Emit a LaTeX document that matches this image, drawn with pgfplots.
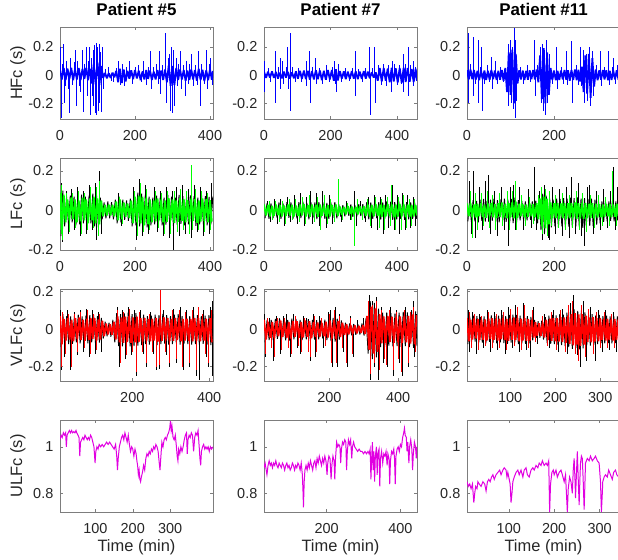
\documentclass[border=0pt]{standalone}
\usepackage{fontspec}
\setmainfont{Liberation Sans}
\usepackage{pgfplots}
\pgfplotsset{compat=1.18}

\definecolor{mblue}{RGB}{0,0,255}
\definecolor{mgreen}{RGB}{0,255,0}
\definecolor{mred}{RGB}{255,0,0}
\definecolor{mmag}{RGB}{225,0,225}
\definecolor{frame}{RGB}{125,125,125}
\definecolor{txt}{RGB}{38,38,38}

\pgfplotsset{
  panel/.style={
    width=153bp, height=92bp, scale only axis, anchor=north west,
    axis line style={frame, line width=0.6bp},
    tick style={frame, line width=0.5bp},
    major tick length=3bp, tick align=inside,
    tick label style={font=\fontsize{14.5}{16}\selectfont, text=txt},
    xticklabel style={anchor=center, inner sep=0pt, yshift=-17bp},
    yticklabel style={anchor=east, inner sep=0pt, xshift=-6.5bp},
    ylabel style={at={(axis description cs:-0.275,0.5)}, anchor=center,
      font=\fontsize{16.5}{18}\selectfont, text=txt},
    xlabel style={at={(axis description cs:0.5,0)}, anchor=center, yshift=-35bp,
      font=\fontsize{16.5}{18}\selectfont, text=txt},
    title style={at={(axis description cs:0.5,1)}, anchor=center, yshift=11.5bp,
      font=\bfseries\fontsize{17}{19}\selectfont, text=black},
  },
  % third column runs past the right edge of the picture
  cut/.style={width=158bp},
  hf/.style={ymin=-0.31, ymax=0.34, ytick={-0.2,0,0.2}, yticklabels={-0.2,0,0.2}},
  lf/.style={ymin=-0.2, ymax=0.265, ytick={-0.2,0,0.2}, yticklabels={-0.2,0,0.2}},
  vlf/.style={ymin=-0.276, ymax=0.214, ytick={-0.2,0,0.2}, yticklabels={-0.2,0,0.2}},
  ulf/.style={ymin=0.72, ymax=1.115, ytick={0.8,1}, yticklabels={0.8,1}},
  sig/.style={#1, line width=1.8bp, line join=bevel},
  sigb/.style={black, line width=0.9bp, line join=bevel},
  spk/.style={#1, ycomb, line width=0.6bp},
}

\begin{document}
\begin{tikzpicture}

% ---------------- row 1: HFc ----------------
\begin{axis}[panel, hf, at={(60bp,-27bp)}, xmin=0, xmax=408,
  xtick={0,200,400}, xticklabels={0,200,400}, title={Patient \#5}, ylabel={HFc (s)}]
\addplot[sig=mblue] coordinates {(0,.04)(5,-.03)(10,.05)(15,-.034)(20,.046)(25,-.028)(30,.052)(35,-.036)(40,.04)(45,-.03)(50,.05)(55,-.034)(60,.044)(65,-.028)(70,.052)(75,-.036)(80,.045)(85,-.06)(90,.08)(95,-.065)(100,.09)(105,-.07)(110,.065)(115,-.02)(120,.016)(125,-.022)(130,.014)(135,-.02)(140,.018)(145,-.015)(150,.03)(155,-.05)(160,.045)(165,-.055)(170,.04)(175,-.045)(180,.03)(185,-.025)(190,.034)(195,-.028)(200,.036)(205,-.024)(210,.032)(215,-.035)(220,.026)(225,-.03)(230,.036)(235,-.026)(240,.032)(245,-.034)(250,.025)(255,-.03)(260,.036)(265,-.026)(270,.032)(275,-.034)(280,.04)(285,-.05)(290,.07)(295,-.075)(300,.065)(305,-.07)(310,.05)(315,-.035)(320,.04)(325,-.03)(330,.036)(335,-.04)(340,.032)(345,-.035)(350,.04)(355,-.03)(360,.036)(365,-.04)(370,.045)(375,-.035)(380,.038)(385,-.042)(390,.034)(395,-.036)(400,.04)(405,-.032)(408,.03)};
\addplot[spk=mblue] coordinates {(2,.2)(4,-.3)(7,.08)(9,.22)(11,-.2)(14,-.08)(18,.1)(22,-.1)(26,-.27)(28,.12)(33,-.07)(38,.09)(41,.18)(44,-.22)(47,.1)(51,-.08)(55,-.12)(59,.18)(62,-.26)(66,.08)(69,.2)(72,-.15)(76,.1)(78,.2)(80,-.28)(83,.12)(86,-.15)(88,.18)(90,-.22)(92,.21)(94,-.27)(96,.23)(98,-.28)(100,.2)(102,-.25)(104,.22)(106,-.2)(108,.16)(110,-.26)(112,.2)(115,-.1)(122,.04)(130,.06)(136,-.04)(142,-.05)(150,.05)(155,.1)(160,-.07)(166,.08)(172,-.08)(177,.06)(186,.1)(192,-.06)(200,.06)(210,.07)(216,-.05)(222,.1)(230,-.07)(235,.06)(240,.17)(243,-.1)(250,.06)(256,.08)(262,-.06)(266,.17)(268,-.13)(274,.07)(280,.3)(283,-.2)(288,.12)(291,.15)(294,-.25)(297,.2)(300,-.27)(303,.18)(306,-.22)(309,.12)(312,-.08)(316,.08)(320,.17)(324,-.1)(330,.07)(333,-.15)(336,.1)(342,-.06)(346,.08)(350,.15)(355,-.08)(360,.07)(366,-.07)(370,.17)(373,-.22)(378,.08)(384,-.06)(390,.18)(393,-.1)(398,.08)(402,.12)(406,-.07)};
\end{axis}

\begin{axis}[panel, hf, at={(264bp,-27bp)}, xmin=0, xmax=460,
  xtick={0,200,400}, xticklabels={0,200,400}, title={Patient \#7}]
\addplot[sig=mblue] coordinates {(0,.025)(6,-.02)(12,.024)(18,-.018)(24,.026)(30,-.02)(36,.022)(42,-.024)(48,.018)(54,-.022)(60,.025)(66,-.018)(72,.022)(78,-.024)(84,.02)(90,-.022)(96,.026)(102,-.025)(108,.03)(114,-.026)(120,.032)(126,-.028)(132,.03)(138,-.033)(144,.028)(150,-.03)(156,.034)(162,-.028)(168,.032)(174,-.035)(180,.03)(186,-.032)(192,.036)(198,-.03)(204,.035)(210,-.04)(216,.042)(222,-.038)(228,.028)(234,-.025)(240,.026)(246,-.028)(252,.024)(258,-.026)(264,.028)(270,-.024)(276,.026)(282,-.028)(288,.024)(294,-.026)(300,.028)(306,-.024)(312,.025)(318,-.022)(324,.02)(330,-.018)(336,.02)(342,-.04)(348,.05)(354,-.045)(360,.05)(366,-.04)(372,.046)(378,-.05)(384,.052)(390,-.045)(396,.048)(402,-.052)(408,.05)(414,-.055)(420,.052)(426,-.048)(432,.05)(438,-.046)(444,.044)(450,-.048)(456,.045)(460,-.04)};
\addplot[spk=mblue] coordinates {(1,.1)(2,-.12)(12,.05)(20,-.05)(33,.17)(35,-.2)(42,.06)(48,.12)(50,-.1)(54,.1)(58,-.06)(66,.06)(70,.2)(72,-.1)(78,.3)(80,-.25)(86,.06)(94,-.05)(104,.05)(112,-.05)(126,.1)(128,-.08)(136,.17)(139,-.2)(146,.06)(153,.12)(156,-.06)(166,.05)(176,-.06)(186,.07)(196,-.05)(204,.06)(210,.1)(214,-.06)(218,-.12)(222,.08)(232,-.05)(244,.05)(256,-.04)(266,.05)(273,.17)(275,-.15)(284,.04)(296,-.05)(306,.05)(318,.2)(320,-.28)(326,.05)(333,.2)(335,-.2)(345,.07)(352,-.07)(360,.08)(368,-.08)(375,.07)(383,-.12)(385,.1)(392,.08)(400,-.07)(408,.07)(412,-.06)(418,.15)(420,-.12)(426,.08)(433,.2)(435,-.15)(440,.07)(448,.1)(450,-.08)(456,.06)};
\end{axis}

\begin{axis}[panel, cut, hf, at={(467bp,-27bp)}, xmin=0, xmax=363,
  xtick={0,200}, xticklabels={0,200}, title={Patient \#11},
  title style={xshift=-2.5bp}]
\addplot[sig=mblue] coordinates {(0,.035)(4,-.03)(8,.04)(12,-.028)(16,.036)(20,-.032)(24,.03)(28,-.036)(32,.034)(36,-.028)(40,.032)(44,-.035)(48,.03)(52,-.032)(56,.036)(60,-.028)(64,.032)(68,-.034)(72,.03)(76,-.032)(80,.036)(84,-.04)(88,.05)(92,-.12)(96,.16)(100,-.14)(104,.18)(108,-.2)(112,.15)(116,-.06)(120,.035)(124,-.03)(128,.032)(132,-.034)(136,.03)(140,-.032)(144,.034)(148,-.028)(152,.036)(156,-.03)(160,.04)(164,-.05)(168,.14)(172,-.17)(176,.19)(180,-.2)(184,.16)(188,-.14)(192,.05)(196,-.035)(200,.032)(204,-.036)(208,.03)(212,-.034)(216,.032)(220,-.03)(224,.036)(228,-.032)(232,.034)(236,-.04)(240,.036)(244,-.035)(248,.04)(252,-.036)(256,.038)(260,-.045)(264,.06)(268,-.12)(272,.14)(276,-.13)(280,.15)(284,-.16)(288,.12)(292,-.08)(296,.04)(300,-.036)(304,.034)(308,-.032)(312,.036)(316,-.03)(320,.034)(324,-.036)(328,.03)(332,-.034)(336,.032)(340,-.03)(344,.034)(348,-.032)(352,.03)(356,-.034)(360,.032)};
\addplot[spk=mblue] coordinates {(2,.3)(3,-.2)(8,.08)(14,.27)(15,-.15)(20,-.06)(25,.25)(26,-.2)(30,.06)(33,.2)(34,-.25)(40,-.06)(46,.07)(52,-.05)(56,.13)(58,-.1)(64,.1)(70,-.06)(76,.06)(84,-.05)(94,.22)(96,-.22)(99,.25)(101,-.2)(104,.2)(106,-.24)(108,.33)(110,-.3)(112,.25)(114,-.18)(122,.06)(130,-.06)(138,.07)(146,-.05)(154,.25)(156,-.15)(162,.07)(168,.2)(170,-.2)(173,.22)(175,-.25)(178,.18)(180,-.28)(183,.25)(185,-.2)(188,.15)(196,-.06)(206,.2)(208,-.1)(216,.06)(222,-.06)(229,.17)(231,-.07)(240,.24)(242,-.2)(250,.07)(255,-.07)(260,.2)(262,-.08)(268,.18)(270,-.2)(274,.15)(277,-.18)(280,.2)(283,-.22)(287,.17)(290,-.15)(298,.07)(306,.17)(308,-.08)(316,.06)(325,.17)(327,-.07)(333,.06)(337,.12)(340,-.06)(346,.07)};
\end{axis}

% ---------------- row 2: LFc ----------------
\begin{axis}[panel, lf, at={(60bp,-158bp)}, xmin=0, xmax=408,
  xtick={0,200,400}, xticklabels={0,200,400}, ylabel={LFc (s)}]
\addplot[sigb] coordinates {(2.5,-.13)(7.5,.1)(12.5,-.08)(17.5,.07)(22.5,-.065)(27.5,.075)(32.5,-.06)(37.5,.07)(42.5,-.075)(47.5,.065)(52.5,-.07)(57.5,.08)(62.5,-.065)(67.5,.07)(72.5,-.08)(77.5,.075)(82.5,-.065)(87.5,.085)(92.5,-.08)(97.5,.075)(102.5,-.085)(107.5,.065)(112.5,-.045)(117.5,.04)(122.5,-.04)(127.5,.045)(132.5,-.04)(137.5,.042)(142.5,-.045)(147.5,.055)(152.5,-.065)(157.5,.07)(162.5,-.06)(167.5,.055)(172.5,-.048)(177.5,.05)(182.5,-.052)(187.5,.06)(192.5,-.08)(197.5,.085)(202.5,-.075)(207.5,.09)(212.5,-.08)(217.5,.085)(222.5,-.09)(227.5,.08)(232.5,-.085)(237.5,.07)(242.5,-.075)(247.5,.065)(252.5,-.07)(257.5,.075)(262.5,-.065)(267.5,.07)(272.5,-.075)(277.5,.065)(282.5,-.072)(287.5,.078)(292.5,-.065)(297.5,.07)(302.5,-.078)(307.5,.065)(312.5,-.072)(317.5,.078)(322.5,-.068)(327.5,.072)(332.5,-.075)(337.5,.068)(342.5,-.07)(347.5,.076)(352.5,-.068)(357.5,.072)(362.5,-.078)(367.5,.065)(372.5,-.07)(377.5,.076)(382.5,-.07)(387.5,.072)(392.5,-.075)(397.5,.068)(402.5,-.07)(407.5,.07)};
\addplot[spk=black] coordinates {(3,.14)(5,-.16)(16,.1)(22,-.12)(30,.11)(38,-.1)(46,.12)(54,-.13)(62,.1)(70,-.12)(78,.13)(86,-.1)(94,.14)(98,-.15)(106,.2)(110,-.12)(156,.09)(164,-.08)(196,.12)(204,-.15)(212,.16)(220,-.13)(228,.13)(236,-.12)(252,.12)(260,-.11)(268,.1)(276,-.13)(284,.12)(292,-.14)(300,.1)(302,-.2)(310,.12)(318,-.13)(326,.13)(334,-.12)(342,.11)(350,-.14)(358,.13)(366,-.11)(374,.12)(382,-.13)(390,.1)(398,-.12)(404,.14)};
\addplot[sig=mgreen] coordinates {(0,.09)(5,-.12)(10,.08)(15,-.06)(20,.055)(25,-.05)(30,.065)(35,-.045)(40,.055)(45,-.06)(50,.05)(55,-.055)(60,.065)(65,-.05)(70,.055)(75,-.065)(80,.06)(85,-.05)(90,.07)(95,-.065)(100,.06)(105,-.07)(110,.05)(115,-.03)(120,.028)(125,-.025)(130,.03)(135,-.026)(140,.028)(145,-.03)(150,.045)(155,-.05)(160,.055)(165,-.045)(170,.04)(175,-.032)(180,.035)(185,-.038)(190,.05)(195,-.065)(200,.07)(205,-.06)(210,.075)(215,-.065)(220,.07)(225,-.075)(230,.065)(235,-.07)(240,.055)(245,-.06)(250,.05)(255,-.055)(260,.06)(265,-.05)(270,.055)(275,-.06)(280,.05)(285,-.058)(290,.062)(295,-.05)(300,.056)(305,-.062)(310,.05)(315,-.058)(320,.062)(325,-.052)(330,.058)(335,-.06)(340,.052)(345,-.056)(350,.06)(355,-.052)(360,.058)(365,-.062)(370,.05)(375,-.056)(380,.06)(385,-.054)(390,.058)(395,-.06)(400,.052)(405,-.056)};
\addplot[spk=mgreen] coordinates {(4,.13)(6,-.15)(18,.09)(26,-.11)(34,.09)(42,-.09)(50,.1)(58,-.12)(66,.09)(74,-.1)(82,.12)(90,-.09)(96,.12)(102,-.13)(104,.15)(158,.07)(166,-.07)(198,.1)(206,-.13)(214,.14)(222,-.11)(230,.11)(238,-.1)(254,.1)(262,-.09)(270,.09)(278,-.12)(286,.1)(294,-.12)(306,.1)(314,-.11)(322,.11)(330,-.1)(338,.1)(346,-.12)(350,.23)(354,-.1)(362,.11)(370,-.1)(378,.1)(386,-.11)(394,.09)(402,-.1)};
\end{axis}

\begin{axis}[panel, lf, at={(264bp,-158bp)}, xmin=0, xmax=460,
  xtick={0,200,400}, xticklabels={0,200,400}]
\addplot[sigb] coordinates {(3,-.04)(9,.036)(15,-.042)(21,.035)(27,-.04)(33,.038)(39,-.036)(45,.04)(51,-.042)(57,.036)(63,-.04)(69,.042)(75,-.037)(81,.04)(87,-.043)(93,.036)(99,-.04)(105,.042)(111,-.038)(117,.044)(123,-.042)(129,.038)(135,-.045)(141,.042)(147,-.038)(153,.04)(159,-.044)(165,.042)(171,-.038)(177,.041)(183,-.043)(189,.038)(195,-.042)(201,.04)(207,-.037)(213,.042)(219,-.04)(225,.03)(231,-.032)(237,.027)(243,-.03)(249,.032)(255,-.027)(261,.03)(267,-.032)(273,.027)(279,-.03)(285,.031)(291,-.028)(297,.032)(303,-.04)(309,.042)(315,-.045)(321,.04)(327,-.043)(333,.045)(339,-.04)(345,.042)(351,-.046)(357,.04)(363,-.043)(369,.046)(375,-.041)(381,.044)(387,-.047)(393,.042)(399,-.045)(405,.047)(411,-.042)(417,.045)(423,-.047)(429,.042)(435,-.045)(441,.04)(447,-.043)(453,.04)(459,-.042)};
\addplot[spk=black] coordinates {(10,.05)(20,-.06)(30,.06)(40,-.07)(48,.06)(60,-.08)(70,.07)(80,-.06)(90,.08)(100,-.07)(110,.09)(120,-.08)(128,.07)(138,.1)(146,-.07)(156,.09)(166,-.08)(176,.1)(186,-.09)(196,.08)(206,-.07)(224,.1)(232,-.06)(246,.05)(258,-.05)(270,.1)(276,-.08)(290,.05)(304,-.06)(314,.07)(324,-.09)(332,.08)(342,-.1)(350,.07)(358,-.12)(366,.08)(374,-.09)(386,.13)(392,-.1)(400,.08)(408,-.12)(416,.09)(424,-.1)(432,.08)(440,-.09)(448,.07)(456,-.08)};
\addplot[sig=mgreen] coordinates {(0,.03)(6,-.025)(12,.028)(18,-.03)(24,.024)(30,-.028)(36,.03)(42,-.024)(48,.027)(54,-.03)(60,.025)(66,-.028)(72,.03)(78,-.026)(84,.028)(90,-.03)(96,.025)(102,-.028)(108,.03)(114,-.025)(120,.032)(126,-.03)(132,.027)(138,-.032)(144,.03)(150,-.026)(156,.028)(162,-.032)(168,.03)(174,-.027)(180,.029)(186,-.031)(192,.027)(198,-.03)(204,.028)(210,-.026)(216,.03)(222,-.028)(228,.02)(234,-.022)(240,.018)(246,-.02)(252,.022)(258,-.018)(264,.02)(270,-.022)(276,.018)(282,-.02)(288,.021)(294,-.019)(300,.022)(306,-.028)(312,.03)(318,-.032)(324,.028)(330,-.03)(336,.032)(342,-.028)(348,.03)(354,-.033)(360,.028)(366,-.03)(372,.033)(378,-.029)(384,.031)(390,-.034)(396,.03)(402,-.032)(408,.034)(414,-.03)(420,.032)(426,-.034)(432,.03)(438,-.032)(444,.028)(450,-.03)(456,.028)(460,-.025)};
\addplot[spk=mgreen] coordinates {(15,.05)(25,-.05)(35,.05)(45,-.06)(55,.05)(65,-.07)(75,.06)(85,-.05)(95,.06)(105,-.06)(115,.07)(125,-.07)(135,.08)(150,-.06)(160,.07)(170,-.1)(180,.08)(190,-.07)(200,.06)(212,-.06)(222,.16)(236,-.05)(250,.04)(262,-.05)(270,-.18)(280,.06)(296,-.05)(310,.06)(320,-.08)(336,.07)(346,-.09)(354,.06)(362,-.1)(370,.07)(380,-.08)(384,.13)(396,-.1)(404,.07)(412,-.1)(420,.08)(428,-.09)(436,.06)(444,-.08)(452,.06)};
\end{axis}

\begin{axis}[panel, cut, lf, at={(467bp,-158bp)}, xmin=0, xmax=363,
  xtick={0,200}, xticklabels={0,200}]
\addplot[sigb] coordinates {(2,-.055)(6,.05)(10,-.058)(14,.052)(18,-.055)(22,.048)(26,-.06)(30,.054)(34,-.052)(38,.058)(42,-.056)(46,.05)(50,-.058)(54,.055)(58,-.052)(62,.06)(66,-.058)(70,.052)(74,-.06)(78,.056)(82,-.055)(86,.06)(90,-.058)(94,.054)(98,-.062)(102,.058)(106,-.064)(110,.065)(114,-.06)(118,.052)(122,-.05)(126,.048)(130,-.052)(134,.046)(138,-.05)(142,.05)(146,-.048)(150,.046)(154,-.052)(158,.05)(162,-.065)(166,.07)(170,-.1)(174,.085)(178,-.12)(182,.075)(186,-.11)(190,.06)(194,-.085)(198,.055)(202,-.08)(206,.06)(210,-.085)(214,.058)(218,-.08)(222,.062)(226,-.085)(230,.06)(234,-.082)(238,.064)(242,-.086)(246,.062)(250,-.08)(254,.066)(258,-.084)(262,.06)(266,-.088)(270,.062)(274,-.08)(278,.058)(282,-.078)(286,.06)(290,-.08)(294,.055)(298,-.072)(302,.05)(306,-.065)(310,.046)(314,-.058)(318,.05)(322,-.055)(326,.046)(330,-.052)(334,.048)(338,-.055)(342,.046)(346,-.05)(350,.048)(354,-.052)(358,.05)};
\addplot[spk=black] coordinates {(6,.15)(10,-.12)(15,.2)(20,-.14)(28,.12)(34,-.1)(42,.15)(48,.18)(54,-.12)(62,.1)(70,-.13)(78,.12)(86,-.1)(95,-.18)(100,.12)(106,.13)(112,-.1)(120,.12)(130,-.1)(140,.11)(148,-.09)(155,.22)(160,-.1)(166,.1)(172,-.15)(178,.13)(186,-.14)(190,-.15)(196,.12)(204,-.12)(212,.11)(220,-.13)(228,.12)(236,-.14)(240,.17)(248,-.12)(256,.14)(262,-.13)(270,-.18)(276,.12)(282,.13)(290,-.12)(298,.1)(306,-.1)(314,.11)(322,-.09)(330,.1)(335,.22)(340,-.1)(346,.12)};
\addplot[sig=mgreen] coordinates {(0,.035)(4,-.03)(8,.038)(12,-.034)(16,.03)(20,-.036)(24,.034)(28,-.03)(32,.036)(36,-.033)(40,.03)(44,-.037)(48,.035)(52,-.03)(56,.038)(60,-.034)(64,.032)(68,-.038)(72,.036)(76,-.032)(80,.04)(84,-.036)(88,.034)(92,-.04)(96,.038)(100,-.035)(104,.042)(108,-.04)(112,.045)(116,-.038)(120,.034)(124,-.03)(128,.032)(132,-.034)(136,.03)(140,-.033)(144,.035)(148,-.03)(152,.032)(156,-.034)(160,.036)(164,-.045)(168,.06)(172,-.08)(176,.07)(180,-.09)(184,.06)(188,-.07)(192,.04)(196,-.04)(200,.036)(204,-.04)(208,.038)(212,-.042)(216,.035)(220,-.04)(224,.038)(228,-.042)(232,.036)(236,-.04)(240,.038)(244,-.036)(248,.04)(252,-.042)(256,.036)(260,-.04)(264,.038)(268,-.042)(272,.036)(276,-.04)(280,.034)(284,-.038)(288,.036)(292,-.04)(296,.034)(300,-.036)(304,.032)(308,-.034)(312,.03)(316,-.032)(320,.034)(324,-.03)(328,.032)(332,-.034)(336,.03)(340,-.032)(344,.034)(348,-.03)(352,.032)(356,-.03)(360,.032)};
\addplot[spk=mgreen] coordinates {(8,.1)(12,-.14)(18,.09)(24,-.1)(32,.09)(38,-.08)(46,.1)(52,-.09)(58,.08)(66,-.1)(74,.09)(82,-.08)(92,.1)(98,-.1)(104,.1)(110,.15)(114,-.1)(124,.08)(134,-.08)(144,.07)(152,-.07)(164,.08)(170,.12)(174,-.12)(180,.11)(184,-.13)(188,.1)(194,-.08)(202,.08)(210,-.09)(218,.09)(226,-.1)(234,.08)(242,-.09)(250,.1)(258,-.1)(266,.09)(274,-.11)(284,.08)(292,-.09)(302,.08)(310,-.08)(318,.07)(326,-.08)(333,.2)(344,-.08)(350,.08)};
\end{axis}

% ---------------- row 3: VLFc ----------------
\begin{axis}[panel, vlf, at={(60bp,-289bp)}, xmin=12, xmax=410,
  xtick={200,400}, xticklabels={200,400}, ylabel={VLFc (s)}]
\addplot[sigb] coordinates {(14.5,-.095)(19.5,.08)(24.5,-.075)(29.5,.07)(34.5,-.08)(39.5,.068)(44.5,-.078)(49.5,.072)(54.5,-.07)(59.5,.078)(64.5,-.075)(69.5,.068)(74.5,-.08)(79.5,.072)(84.5,-.076)(89.5,.075)(94.5,-.07)(99.5,.076)(104.5,-.08)(109.5,.07)(114.5,-.072)(119.5,.06)(124.5,-.05)(129.5,.04)(134.5,-.038)(139.5,.035)(144.5,-.04)(149.5,.05)(154.5,-.07)(159.5,.085)(164.5,-.09)(169.5,.08)(174.5,-.092)(179.5,.084)(184.5,-.088)(189.5,.09)(194.5,-.092)(199.5,.08)(204.5,-.09)(209.5,.085)(214.5,-.088)(219.5,.075)(224.5,-.085)(229.5,.078)(234.5,-.08)(239.5,.07)(244.5,-.082)(249.5,.072)(254.5,-.078)(259.5,.078)(264.5,-.085)(269.5,.075)(274.5,-.08)(279.5,.082)(284.5,-.078)(289.5,.075)(294.5,-.082)(299.5,.07)(304.5,-.08)(309.5,.078)(314.5,-.075)(319.5,.08)(324.5,-.082)(329.5,.07)(334.5,-.078)(339.5,.072)(344.5,-.08)(349.5,.07)(354.5,-.082)(359.5,.078)(364.5,-.08)(369.5,.075)(374.5,-.082)(379.5,.07)(384.5,-.078)(389.5,.072)(394.5,-.082)(399.5,.075)(404.5,-.085)(409.5,.08)};
\addplot[spk=black] coordinates {(14,.1)(16,-.22)(22,-.15)(30,.1)(40,-.22)(48,.09)(56,-.14)(64,.1)(72,-.12)(80,.11)(88,-.15)(96,.1)(104,-.13)(112,.09)(120,-.12)(160,.12)(166,-.2)(174,.1)(182,-.16)(190,.12)(198,-.14)(206,.1)(211,-.25)(220,.1)(228,-.13)(237,-.2)(246,.09)(254,-.13)(263,-.22)(271,-.21)(280,.1)(288,-.14)(297,-.2)(306,.11)(315,-.18)(324,.12)(332,-.22)(340,.1)(349,-.2)(358,.12)(367,-.25)(375,-.27)(384,.1)(392,-.15)(397,-.2)(404,.12)(408,-.25)(409,.15)};
\addplot[sig=mred] coordinates {(12,.07)(17,-.08)(22,.055)(27,-.062)(32,.06)(37,-.055)(42,.05)(47,-.065)(52,.058)(57,-.052)(62,.062)(67,-.058)(72,.05)(77,-.062)(82,.056)(87,-.058)(92,.06)(97,-.052)(102,.058)(107,-.062)(112,.052)(117,-.055)(122,.045)(127,-.038)(132,.03)(137,-.028)(142,.026)(147,-.03)(152,.04)(157,-.055)(162,.068)(167,-.07)(172,.062)(177,-.072)(182,.066)(187,-.068)(192,.07)(197,-.072)(202,.062)(207,-.07)(212,.066)(217,-.068)(222,.058)(227,-.066)(232,.06)(237,-.062)(242,.054)(247,-.064)(252,.056)(257,-.06)(262,.06)(267,-.066)(272,.058)(277,-.062)(282,.064)(287,-.06)(292,.058)(297,-.064)(302,.054)(307,-.062)(312,.06)(317,-.058)(322,.062)(327,-.064)(332,.054)(337,-.06)(342,.056)(347,-.062)(352,.054)(357,-.064)(362,.06)(367,-.062)(372,.058)(377,-.064)(382,.054)(387,-.06)(392,.056)(397,-.064)(402,.058)(407,-.07)};
\addplot[spk=mred] coordinates {(15,-.2)(18,.09)(26,-.13)(34,.08)(42,-.2)(50,.08)(58,-.12)(66,.09)(74,-.1)(82,.1)(90,-.13)(98,.08)(106,-.11)(114,.08)(160,.1)(168,-.18)(176,.09)(184,-.14)(192,.11)(200,-.12)(210,-.23)(218,.09)(226,-.12)(236,-.18)(244,.08)(252,-.12)(262,-.2)(270,-.19)(274,.21)(286,-.12)(296,-.18)(304,.1)(314,-.16)(322,.1)(330,-.2)(338,.09)(348,-.18)(356,.1)(366,-.22)(372,.12)(382,.08)(390,-.13)(398,-.18)(406,.1)};
\end{axis}

\begin{axis}[panel, vlf, at={(264bp,-289bp)}, xmin=10, xmax=455,
  xtick={200,400}, xticklabels={200,400}]
\addplot[sigb] coordinates {(13,-.07)(19,.05)(25,-.058)(31,.05)(37,-.06)(43,.055)(49,-.052)(55,.058)(61,-.056)(67,.052)(73,-.06)(79,.05)(85,-.062)(91,.056)(97,-.054)(103,.055)(109,-.06)(115,.05)(121,-.058)(127,.058)(133,-.054)(139,.054)(145,-.062)(151,.05)(157,-.056)(163,.048)(169,-.054)(175,.046)(181,-.05)(187,.05)(193,-.058)(199,.058)(205,-.064)(211,.06)(217,-.066)(223,.056)(229,-.056)(235,.046)(241,-.042)(247,.034)(253,-.038)(259,.03)(265,-.032)(271,.028)(277,-.03)(283,.026)(289,-.028)(295,.03)(301,-.034)(307,.06)(313,-.13)(319,.15)(325,-.16)(331,.14)(337,-.15)(343,.11)(349,-.095)(355,.088)(361,-.094)(367,.09)(373,-.088)(379,.086)(385,-.092)(391,.084)(397,-.09)(403,.088)(409,-.094)(415,.092)(421,-.09)(427,.09)(433,-.096)(439,.098)(445,-.1)(451,.095)(455,-.09)};
\addplot[spk=black] coordinates {(12,.08)(13,-.15)(24,.06)(37,-.17)(46,.07)(57,-.13)(66,.07)(76,.08)(86,-.15)(96,.08)(106,-.1)(115,-.13)(124,.07)(134,.06)(144,-.17)(152,.08)(159,-.15)(170,.07)(182,-.1)(196,.09)(202,.1)(208,-.2)(216,.12)(222,-.2)(230,.08)(240,-.12)(251,-.2)(262,.07)(270,-.15)(280,.05)(300,.06)(316,.18)(318,-.27)(324,.15)(330,-.2)(336,.17)(342,-.27)(350,.12)(358,-.18)(368,-.2)(376,.12)(387,-.25)(396,.1)(404,-.18)(411,-.25)(420,.12)(431,-.2)(438,.1)(445,.15)(448,-.15)(452,.08)};
\addplot[sig=mred] coordinates {(10,.05)(16,-.055)(22,.04)(28,-.045)(34,.038)(40,-.048)(46,.042)(52,-.038)(58,.046)(64,-.042)(70,.04)(76,-.046)(82,.038)(88,-.05)(94,.044)(100,-.04)(106,.042)(112,-.046)(118,.038)(124,-.044)(130,.046)(136,-.04)(142,.042)(148,-.048)(154,.038)(160,-.042)(166,.036)(172,-.04)(178,.034)(184,-.038)(190,.04)(196,-.045)(202,.046)(208,-.05)(214,.048)(220,-.052)(226,.044)(232,-.042)(238,.034)(244,-.03)(250,.026)(256,-.028)(262,.022)(268,-.024)(274,.02)(280,-.022)(286,.018)(292,-.02)(298,.022)(304,-.026)(310,.07)(316,-.11)(322,.12)(328,-.13)(334,.11)(340,-.12)(346,.08)(352,-.075)(358,.068)(364,-.074)(370,.07)(376,-.068)(382,.066)(388,-.072)(394,.064)(400,-.07)(406,.068)(412,-.074)(418,.072)(424,-.07)(430,.07)(436,-.076)(442,.078)(448,-.08)(454,.075)};
\addplot[spk=mred] coordinates {(14,-.13)(20,.06)(30,-.1)(40,-.15)(50,.06)(60,-.11)(70,.06)(80,-.1)(88,-.13)(100,.07)(110,-.09)(118,-.12)(128,.06)(140,-.12)(146,-.15)(156,.07)(162,-.12)(176,.06)(188,-.09)(200,.08)(206,-.18)(214,.1)(220,-.18)(228,.07)(238,-.1)(250,-.18)(260,.06)(268,-.13)(314,.15)(320,-.24)(326,.13)(332,-.18)(338,.15)(344,-.22)(352,.1)(360,-.16)(366,-.19)(374,.1)(386,-.22)(394,.09)(402,-.16)(410,-.23)(418,.1)(430,-.18)(436,.09)(444,.12)(450,-.12)};
\end{axis}

\begin{axis}[panel, cut, vlf, at={(467bp,-289bp)}, xmin=4, xmax=355,
  xtick={100,200,300}, xticklabels={100,200,300}]
\addplot[sigb] coordinates {(6,-.08)(10,.068)(14,-.07)(18,.072)(22,-.066)(26,.07)(30,-.074)(34,.066)(38,-.072)(42,.068)(46,-.076)(50,.072)(54,-.068)(58,.074)(62,-.072)(66,.07)(70,-.076)(74,.072)(78,-.07)(82,.076)(86,-.074)(90,.07)(94,-.078)(98,.076)(102,-.072)(106,.078)(110,-.074)(114,.076)(118,-.08)(122,.072)(126,-.076)(130,.074)(134,-.078)(138,.07)(142,-.076)(146,.066)(150,-.06)(154,.05)(158,-.046)(162,.042)(166,-.046)(170,.046)(174,-.056)(178,.064)(182,-.074)(186,.072)(190,-.078)(194,.076)(198,-.08)(202,.074)(206,-.082)(210,.08)(214,-.085)(218,.078)(222,-.09)(226,.088)(230,-.096)(234,.1)(238,-.105)(242,.105)(246,-.1)(250,.098)(254,-.108)(258,.1)(262,-.102)(266,.09)(270,-.086)(274,.078)(278,-.088)(282,.08)(286,-.082)(290,.074)(294,-.08)(298,.076)(302,-.074)(306,.07)(310,-.076)(314,.072)(318,-.074)(322,.068)(326,-.076)(330,.07)(334,-.074)(338,.068)(342,-.072)(346,.07)(350,-.074)(354,.068)};
\addplot[spk=black] coordinates {(6,.1)(8,-.12)(16,.09)(24,-.13)(32,.08)(40,-.1)(48,.1)(56,-.12)(64,.09)(72,-.11)(80,.1)(88,-.13)(96,.12)(104,-.1)(112,.13)(120,-.12)(128,.14)(136,-.11)(144,-.15)(152,.12)(160,-.08)(176,.08)(186,-.1)(196,.1)(206,-.12)(216,.11)(226,-.13)(234,.14)(241,.18)(248,-.14)(255,-.2)(262,.15)(270,-.17)(278,.12)(289,-.17)(296,.1)(304,-.12)(312,.1)(320,-.11)(328,.09)(336,-.12)(342,.1)};
\addplot[sig=mred] coordinates {(4,.06)(8,-.065)(12,.05)(16,-.055)(20,.058)(24,-.05)(28,.054)(32,-.058)(36,.05)(40,-.056)(44,.052)(48,-.06)(52,.056)(56,-.052)(60,.058)(64,-.056)(68,.054)(72,-.06)(76,.056)(80,-.054)(84,.06)(88,-.058)(92,.054)(96,-.062)(100,.06)(104,-.056)(108,.062)(112,-.058)(116,.06)(120,-.064)(124,.056)(128,-.06)(132,.058)(136,-.062)(140,.054)(144,-.06)(148,.05)(152,-.045)(156,.038)(160,-.035)(164,.032)(168,-.036)(172,.036)(176,-.045)(180,.05)(184,-.058)(188,.056)(192,-.062)(196,.06)(200,-.064)(204,.058)(208,-.066)(212,.064)(216,-.068)(220,.062)(224,-.072)(228,.07)(232,-.078)(236,.08)(240,-.086)(244,.085)(248,-.082)(252,.078)(256,-.088)(260,.08)(264,-.082)(268,.072)(272,-.068)(276,.062)(280,-.07)(284,.064)(288,-.066)(292,.058)(296,-.064)(300,.06)(304,-.058)(308,.054)(312,-.06)(316,.056)(320,-.058)(324,.052)(328,-.06)(332,.055)(336,-.058)(340,.052)(344,-.056)(348,.054)(352,-.056)};
\addplot[spk=mred] coordinates {(10,.09)(14,-.1)(20,.08)(28,-.11)(36,.07)(44,-.09)(52,.09)(60,-.1)(68,.08)(76,-.1)(84,.09)(92,-.11)(100,.11)(108,-.09)(116,.12)(124,-.11)(132,.13)(140,-.1)(148,.1)(156,-.07)(172,.07)(182,-.09)(192,.09)(202,-.11)(212,.1)(222,-.12)(230,.13)(238,.15)(244,-.13)(252,-.17)(258,.13)(266,-.15)(274,.11)(284,-.13)(292,.09)(300,-.1)(308,.09)(316,-.1)(324,.08)(332,-.1)(340,.09)};
\end{axis}

% ---------------- row 4: ULFc ----------------
\begin{axis}[panel, ulf, at={(60bp,-420bp)}, xmin=5, xmax=415,
  xtick={100,200,300}, xticklabels={100,200,300}, ylabel={ULFc (s)}, xlabel={Time (min)}]
\addplot[mmag, line width=1bp] coordinates {(5,1.03)(8,1.05)(11,1.04)(14,1.06)(17,1.05)(20,1.06)(22,1.0)(24,1.05)(27,1.06)(30,1.07)(33,1.06)(36,1.07)(39,1.06)(42,1.065)(45,1.06)(48,1.07)(50,1.06)(53,1.05)(56,1.04)(58,0.96)(60,1.02)(63,1.03)(66,1.04)(69,1.03)(72,1.05)(75,1.04)(78,1.03)(81,1.04)(84,1.03)(87,1.05)(90,1.04)(93,1.02)(96,1.0)(99,0.93)(101,0.98)(104,1.0)(107,0.99)(110,1.01)(114,1.0)(118,1.01)(122,1.0)(126,1.01)(130,1.02)(134,1.01)(138,1.02)(142,1.01)(146,1.0)(150,0.99)(154,1.01)(157,0.96)(159,0.9)(161,0.95)(164,1.0)(167,1.02)(170,1.04)(173,1.05)(176,1.03)(179,1.06)(182,1.04)(185,1.02)(188,1.05)(191,1.01)(194,0.98)(197,1.0)(200,0.99)(203,0.96)(206,0.99)(209,0.97)(211,0.94)(213,0.92)(215,0.88)(217,0.9)(219,0.86)(221,0.85)(223,0.87)(226,0.89)(229,0.92)(232,0.9)(235,0.95)(238,0.97)(241,0.96)(244,0.98)(247,0.97)(250,0.99)(253,0.98)(256,1.0)(259,0.99)(262,1.01)(265,1.0)(268,0.98)(271,0.93)(273,0.9)(275,0.95)(278,1.02)(281,1.0)(284,1.03)(287,1.04)(290,1.03)(293,1.05)(296,1.06)(299,1.08)(301,1.11)(303,1.07)(305,1.09)(308,1.04)(311,1.03)(314,1.05)(317,1.0)(319,0.96)(321,0.94)(323,0.99)(326,0.97)(329,1.0)(332,0.98)(335,1.0)(338,1.03)(341,1.05)(344,1.06)(346,0.97)(348,1.03)(351,1.05)(354,1.04)(357,1.06)(360,1.05)(363,0.98)(366,1.04)(369,1.06)(372,1.05)(375,1.07)(378,1.0)(380,0.95)(382,0.92)(384,0.98)(387,1.0)(390,1.01)(393,0.99)(396,1.0)(399,0.99)(402,1.0)(405,0.98)(408,1.0)(411,0.99)(415,1.0)};
\end{axis}

\begin{axis}[panel, ulf, at={(264bp,-420bp)}, xmin=30, xmax=445,
  xtick={200,400}, xticklabels={200,400}, xlabel={Time (min)}]
\addplot[mmag, line width=1bp] coordinates {(30,0.91)(33,0.93)(36,0.9)(38,0.88)(41,0.92)(44,0.94)(47,0.92)(50,0.93)(53,0.91)(56,0.93)(59,0.92)(62,0.94)(65,0.92)(68,0.91)(71,0.93)(74,0.92)(77,0.91)(80,0.93)(83,0.92)(86,0.9)(89,0.92)(92,0.93)(95,0.91)(98,0.92)(101,0.9)(104,0.91)(107,0.93)(110,0.92)(113,0.9)(116,0.92)(119,0.91)(122,0.93)(125,0.92)(128,0.9)(131,0.93)(134,0.88)(136,0.8)(137,0.74)(139,0.85)(141,0.9)(144,0.92)(147,0.9)(150,0.93)(153,0.91)(156,0.94)(159,0.92)(162,0.9)(165,0.93)(168,0.94)(171,0.91)(174,0.95)(177,0.93)(180,0.96)(183,0.94)(186,0.92)(189,0.95)(192,0.93)(195,0.96)(198,0.94)(201,0.88)(203,0.93)(206,0.96)(209,0.95)(212,0.86)(214,0.92)(217,0.96)(220,0.94)(222,0.86)(224,0.95)(227,1.02)(230,1.0)(233,1.01)(236,1.0)(238,0.93)(240,0.99)(243,1.02)(246,1.01)(249,1.03)(252,1.02)(254,0.9)(256,0.98)(259,1.03)(262,1.01)(265,1.03)(268,0.95)(270,1.0)(273,1.02)(276,1.0)(280,0.99)(284,0.98)(288,0.99)(292,0.98)(296,0.98)(300,0.97)(304,0.98)(308,0.97)(312,0.98)(315,0.97)(318,0.99)(320,0.86)(322,0.95)(324,1.02)(326,0.9)(328,0.98)(330,0.85)(332,0.96)(335,1.0)(337,0.88)(339,0.97)(342,0.99)(344,0.83)(346,0.95)(349,0.98)(352,0.93)(355,0.97)(358,0.96)(361,0.98)(364,0.92)(366,0.97)(369,0.95)(371,0.84)(373,0.94)(376,0.98)(379,0.97)(382,0.99)(384,0.95)(386,0.84)(388,0.96)(391,0.99)(394,1.0)(397,0.98)(400,1.01)(403,1.0)(406,1.04)(409,1.06)(411,1.08)(413,1.05)(416,1.04)(418,0.98)(420,1.02)(423,0.93)(425,1.0)(428,1.03)(431,0.99)(433,0.9)(435,0.97)(438,1.02)(441,1.0)(443,0.95)(445,1.0)};
\end{axis}

\begin{axis}[panel, cut, ulf, at={(467bp,-420bp)}, xmin=8, xmax=356,
  xtick={100,200,300}, xticklabels={100,200,300}, xlabel={Time (min)},
  xlabel style={xshift=-2.5bp}]
\addplot[mmag, line width=1bp] coordinates {(8,0.85)(11,0.83)(14,0.84)(17,0.82)(20,0.84)(23,0.76)(25,0.8)(27,0.83)(30,0.82)(32,0.85)(35,0.84)(39,0.83)(43,0.85)(47,0.84)(50,0.81)(53,0.85)(56,0.86)(59,0.85)(62,0.87)(65,0.88)(68,0.86)(72,0.88)(76,0.89)(80,0.9)(83,0.88)(87,0.9)(90,0.91)(94,0.9)(96,0.87)(98,0.89)(101,0.86)(103,0.84)(105,0.76)(107,0.8)(109,0.85)(112,0.87)(116,0.89)(120,0.9)(123,0.88)(127,0.9)(131,0.87)(134,0.9)(138,0.91)(141,0.88)(145,0.87)(149,0.9)(153,0.91)(156,0.9)(160,0.92)(164,0.91)(167,0.93)(171,0.92)(174,0.94)(178,0.92)(182,0.93)(185,0.92)(188,0.94)(190,0.72)(192,0.84)(195,0.89)(198,0.9)(200,0.88)(204,0.9)(207,0.87)(211,0.89)(215,0.9)(218,0.88)(222,0.85)(225,0.88)(229,0.72)(231,0.82)(234,0.87)(237,0.85)(240,0.8)(242,0.9)(244,0.95)(246,0.85)(247,0.78)(249,0.88)(251,0.98)(253,0.86)(255,0.75)(257,0.88)(258,0.93)(260,0.96)(262,0.95)(264,0.85)(266,0.73)(268,0.86)(269,0.93)(273,0.95)(277,0.94)(280,0.96)(284,0.94)(288,0.95)(291,0.96)(295,0.94)(299,0.93)(302,0.85)(304,0.72)(306,0.8)(307,0.85)(310,0.87)(313,0.88)(317,0.87)(320,0.9)(324,0.88)(328,0.86)(331,0.89)(335,0.9)(338,0.88)(342,0.87)(345,0.89)(349,0.86)(353,0.88)(356,0.87)};
\end{axis}

\pgfresetboundingbox
\useasboundingbox (0,0) rectangle (618bp,-560bp);
\end{tikzpicture}
\end{document}
